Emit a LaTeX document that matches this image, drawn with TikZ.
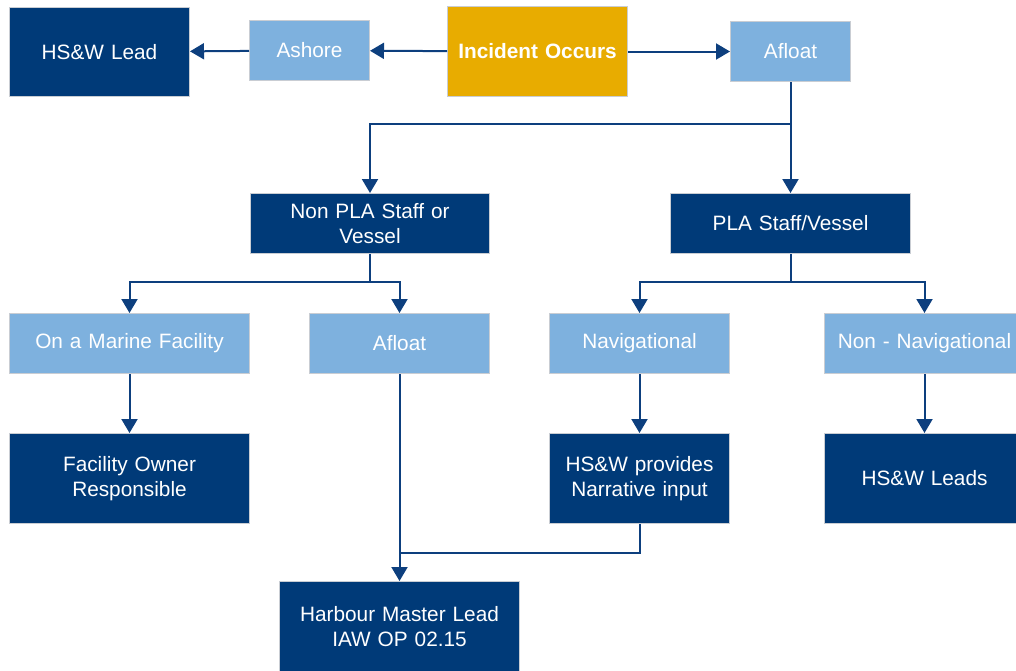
\documentclass[tikz,border=0pt]{standalone}
\usepackage{fontspec}
\setmainfont{Liberation Sans}
\usetikzlibrary{arrows.meta,positioning,calc}
\definecolor{navy}{HTML}{003A78}
\definecolor{sky}{HTML}{7EB1DE}
\definecolor{gold}{HTML}{E8AC00}
\definecolor{edge}{HTML}{C9CDD3}
\definecolor{wire}{HTML}{0D3F7E}
\begin{document}
\begin{tikzpicture}[x=1pt,y=-1pt,
  box/.style={draw=edge,line width=1pt,inner sep=0pt,anchor=north west,
    align=center,text=white,font=\fontsize{20.8}{25}\selectfont},
  dark/.style={box,fill=navy},
  light/.style={box,fill=sky},
  start/.style={box,fill=gold,font=\fontsize{20.8}{25}\selectfont\bfseries},
  wh/.style 2 args={minimum width=#1pt,minimum height=#2pt,text width=#1pt-8pt},
  conn/.style={draw=wire,line width=2pt,-{Triangle[width=16pt,length=14pt]}},
  link/.style={draw=wire,line width=2pt}]
\useasboundingbox (0,0) rectangle (1016,670);

% top row
\node[dark,wh={180}{89}]  (hswlead) at (9,7)   {HS\&W Lead};
\node[light,wh={120}{60}] (ashore)  at (249,20) {Ashore};
\node[start,wh={180}{90}] (inc)     at (447,6)  {Incident Occurs};
\node[light,wh={120}{60}] (afloat)  at (730,21) {Afloat};

% second row
\node[dark,wh={239}{60}] (nonpla) at (250,193) {Non PLA Staff or\\Vessel};
\node[dark,wh={240}{60}] (pla)    at (670,193) {PLA Staff/Vessel};

% third row
\node[light,wh={240}{60}] (marine)  at (9,313)   {On a Marine Facility};
\node[light,wh={180}{60}] (afloatb) at (309,313) {Afloat};
\node[light,wh={180}{60}] (nav)     at (549,313) {Navigational};
\node[light,wh={200}{60}] (nonnav)  at (824,313) {Non - Navigational};

% fourth row
\node[dark,wh={240}{90}] (owner) at (9,433)   {Facility Owner\\Responsible};
\node[dark,wh={180}{90}] (hswn)  at (549,433) {HS\&W provides\\Narrative input};
\node[dark,wh={200}{90}] (hswls) at (824,433) {HS\&W Leads};

% bottom
\node[dark,wh={240}{90}] (hm) at (279,581) {Harbour Master Lead\\IAW OP 02.15};
\coordinate (join) at (hm.north |- 0,553);

% connectors
\draw[conn] (inc) -- (ashore);
\draw[conn] (ashore) -- (hswlead);
\draw[conn] (inc) -- (afloat);
\draw[conn] (afloat.south) -- (pla.north);
\draw[conn] (afloat.south) -- ++(0,42) -| (nonpla.north);
\draw[conn] (nonpla.south) -- ++(0,28) -| (marine.north);
\draw[conn] (nonpla.south) -- ++(0,28) -| (afloatb.north);
\draw[conn] (pla.south) -- ++(0,28) -| (nav.north);
\draw[conn] (pla.south) -- ++(0,28) -| (nonnav.north);
\draw[conn] (marine) -- (owner);
\draw[conn] (nav) -- (hswn);
\draw[conn] (nonnav) -- (hswls);
\draw[conn] (afloatb.south) -- (hm.north);
\draw[link] (hswn.south) |- (join);
\end{tikzpicture}
\end{document}
